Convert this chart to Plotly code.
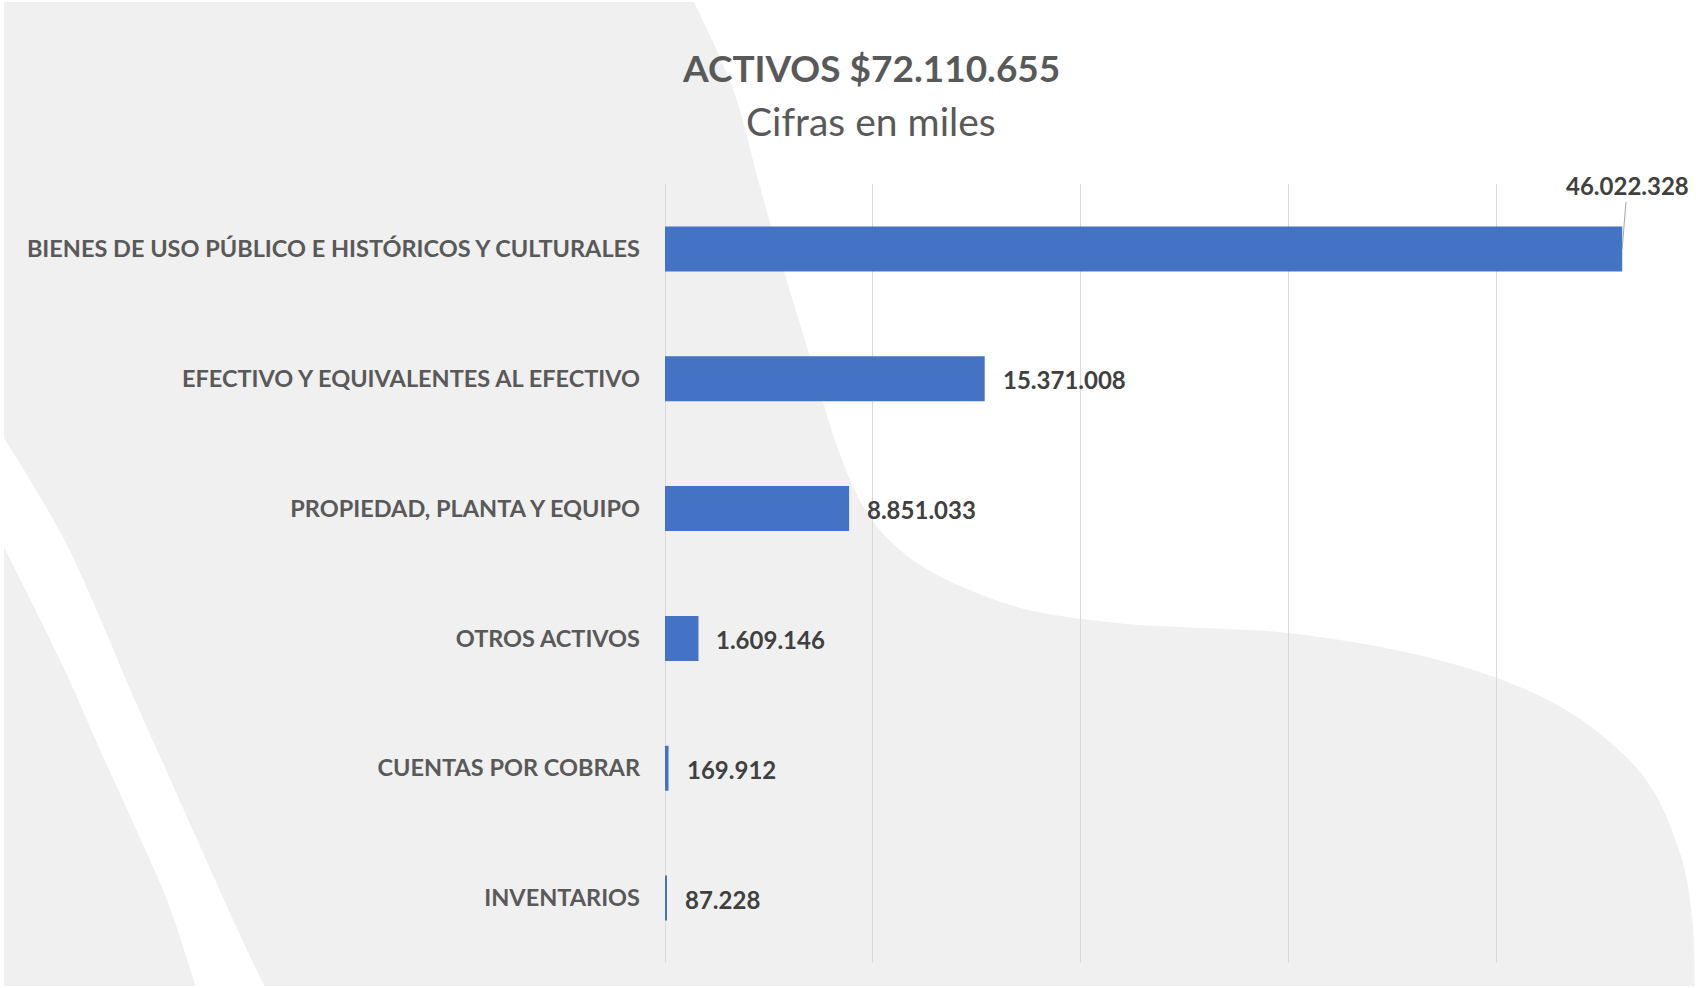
import plotly.graph_objects as go

# ---- data ----
categories = [
    "BIENES DE USO PÚBLICO E HISTÓRICOS Y CULTURALES",
    "EFECTIVO Y EQUIVALENTES AL EFECTIVO",
    "PROPIEDAD, PLANTA Y EQUIPO",
    "OTROS ACTIVOS",
    "CUENTAS POR COBRAR",
    "INVENTARIOS",
]
values = [46022328, 15371008, 8851033, 1609146, 169912, 87228]
title_text = "ACTIVOS $72.110.655"
subtitle_text = "Cifras en miles"

W, H = 1696, 988
FONT = "Lato"
TXT = "#595959"
LBL = "#404040"


def fmt(v):
    return f"{v:,}".replace(",", ".")


def px(x, y):
    return x / W, 1 - y / H


def curve_cmds(pts, start_with_move=True):
    """Catmull-Rom spline through pixel points, as SVG commands in paper coords."""
    p = [px(*q) for q in pts]
    s = (f"M {p[0][0]:.5f},{p[0][1]:.5f}" if start_with_move
         else f"L {p[0][0]:.5f},{p[0][1]:.5f}")
    for i in range(len(p) - 1):
        p0 = p[i - 1] if i > 0 else p[i]
        p1 = p[i]
        p2 = p[i + 1]
        p3 = p[i + 2] if i + 2 < len(p) else p[i + 1]
        c1 = (p1[0] + (p2[0] - p0[0]) / 6, p1[1] + (p2[1] - p0[1]) / 6)
        c2 = (p2[0] - (p3[0] - p1[0]) / 6, p2[1] - (p3[1] - p1[1]) / 6)
        s += (f" C {c1[0]:.5f},{c1[1]:.5f} {c2[0]:.5f},{c2[1]:.5f}"
              f" {p2[0]:.5f},{p2[1]:.5f}")
    return s


def line_cmds(pts):
    return " ".join(f"L {px(*q)[0]:.5f},{px(*q)[1]:.5f}" for q in pts)


# background decoration outlines (pixel positions)
right_curve = [(693, 0), (733, 89), (760, 187), (783, 268), (810, 357), (837, 446),
               (867, 513), (910, 558), (967, 589), (1033, 611), (1117, 623), (1178, 627),
               (1288, 633), (1400, 651), (1497, 678), (1577, 717), (1644, 777),
               (1679, 850), (1692, 917), (1695, 988)]
band_outer = [(-10, 416), (4, 438), (33, 485), (67, 545), (100, 618), (133, 696),
              (167, 772), (200, 846), (234, 922), (268, 994)]
band_inner = [(198, 994), (169, 905), (135, 827), (101, 752), (67, 675), (33, 605),
              (4, 547), (-10, 519)]

shapes = [
    dict(type="rect", xref="paper", yref="paper", x0=4 / W, x1=1, y0=1 - 986 / H, y1=1 - 2 / H,
         fillcolor="#f0f0f0", line=dict(width=0), layer="below"),
    dict(type="path", xref="paper", yref="paper",
         path=curve_cmds(right_curve) + " " + line_cmds([(1700, 992), (1700, -4)]) + " Z",
         fillcolor="#ffffff", line=dict(width=0), layer="below"),
    dict(type="path", xref="paper", yref="paper",
         path=curve_cmds(band_outer) + " " + curve_cmds(band_inner, False) + " Z",
         fillcolor="#ffffff", line=dict(width=0), layer="below"),
]

fig = go.Figure()
fig.add_trace(go.Bar(
    x=values, y=categories, orientation="h",
    marker=dict(color="#4472C4", line=dict(width=0)),
    hoverinfo="skip",
))

LBL_SIZE = 24
annotations = []
for i, (c, v) in enumerate(zip(categories, values)):
    if i == 0:
        annotations.append(dict(
            x=v, y=c, xref="x", yref="y", text=fmt(v), showarrow=True,
            ax=5, ay=-63, arrowhead=0, arrowwidth=1, arrowcolor="#a6a6a6",
            font=dict(family=FONT, size=LBL_SIZE, color=LBL, weight="bold"),
            standoff=0,
        ))
    else:
        annotations.append(dict(
            x=v, y=c, xref="x", yref="y", text=fmt(v), showarrow=False,
            xanchor="left", yanchor="middle", xshift=16, yshift=-1,
            font=dict(family=FONT, size=LBL_SIZE, color=LBL, weight="bold"),
        ))

annotations.append(dict(
    x=871 / W, y=1 - 68 / H, xref="paper", yref="paper", text=title_text, showarrow=False,
    xanchor="center", yanchor="middle",
    font=dict(family=FONT, size=37, color=TXT, weight="bold"),
))
annotations.append(dict(
    x=871 / W, y=1 - 121 / H, xref="paper", yref="paper", text=subtitle_text, showarrow=False,
    xanchor="center", yanchor="middle",
    font=dict(family=FONT, size=39, color=TXT),
))

fig.update_layout(
    width=W, height=H,
    margin=dict(l=0, r=0, t=0, b=0),
    paper_bgcolor="#ffffff", plot_bgcolor="rgba(0,0,0,0)",
    showlegend=False, bargap=0.654,
    shapes=shapes, annotations=annotations,
    xaxis=dict(domain=[665 / W, 1.0], range=[0, 49.57e6], dtick=10e6, tick0=0,
               showgrid=True, gridcolor="#d9d9d9", gridwidth=1,
               zeroline=True, zerolinecolor="#d9d9d9", zerolinewidth=1,
               showticklabels=False, showline=False, fixedrange=True),
    yaxis=dict(domain=[1 - 963 / H, 1 - 184 / H], autorange="reversed",
               showgrid=False, zeroline=False, showline=False, automargin=False,
               ticks="", ticklabelstandoff=24,
               tickfont=dict(family=FONT, size=23.5, color=TXT, weight="bold"),
               fixedrange=True),
)

fig.write_html(
    "out.html",
    config={"displayModeBar": False},
    post_script="document.body.style.margin='0';document.body.style.overflow='hidden';",
)
